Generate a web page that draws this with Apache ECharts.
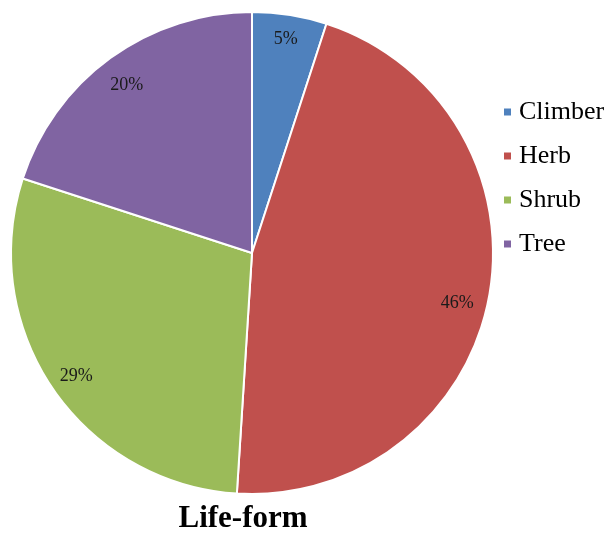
<!DOCTYPE html>
<html>
<head>
<meta charset="utf-8">
<script src="https://cdn.jsdelivr.net/npm/echarts@6/dist/echarts.min.js"></script>
<style>
  html, body { margin: 0; padding: 0; background: #fff; }
  #chart { width: 608px; height: 533px; }
</style>
</head>
<body>
<div id="chart"></div>
<script>
// Life-form composition (percent of species)
const categories = ['Climber', 'Herb', 'Shrub', 'Tree'];
const shares = [5, 46, 29, 20];
const colors = ['#4F81BD', '#C0504D', '#9BBB59', '#8064A2'];

// small label nudges so the percentages sit where they read best
const labelNudge = { Climber: [0, -1], Herb: [-6, 10], Shrub: [2, 2], Tree: [1, 6] };

const serif = '"Liberation Serif", "Times New Roman", serif';
const data = categories.map((name, i) => ({ name, value: shares[i] }));
const labelData = categories.map((name, i) => ({
  name, value: shares[i], label: { offset: labelNudge[name] }
}));

const chart = echarts.init(document.getElementById('chart'), null, { renderer: 'canvas' });
chart.setOption({
  animation: false,
  color: colors,
  title: {
    text: 'Life-form',
    left: 243,
    textAlign: 'center',
    top: 503,
    padding: 0,
    textStyle: { fontFamily: serif, fontWeight: 'bold', fontSize: 31, color: '#000' }
  },
  legend: {
    orient: 'vertical',
    left: 502,
    top: 99,
    padding: 0,
    icon: 'rect',
    itemWidth: 9,
    itemHeight: 9,
    itemGap: 18,
    data: categories,
    textStyle: { fontFamily: serif, fontSize: 26, color: '#000', lineHeight: 26, padding: [0, 0, 0, 2] }
  },
  series: [
    {
      type: 'pie',
      center: [252, 253],
      radius: [0, 241],
      startAngle: 90,
      clockwise: true,
      silent: true,
      data: data,
      itemStyle: { borderColor: '#fff', borderWidth: 2 },
      label: { show: false },
      labelLine: { show: false }
    },
    {
      // label ring: places the percentage text near the rim of each slice
      type: 'pie',
      center: [252, 253],
      radius: [186, 238],
      startAngle: 90,
      clockwise: true,
      silent: true,
      data: labelData,
      itemStyle: { color: 'rgba(0,0,0,0)', borderWidth: 0 },
      label: {
        show: true,
        position: 'inside',
        formatter: p => p.value + '%',
        fontFamily: serif,
        fontSize: 18,
        color: '#1a1a1a'
      },
      labelLine: { show: false }
    }
  ]
});
</script>
</body>
</html>
